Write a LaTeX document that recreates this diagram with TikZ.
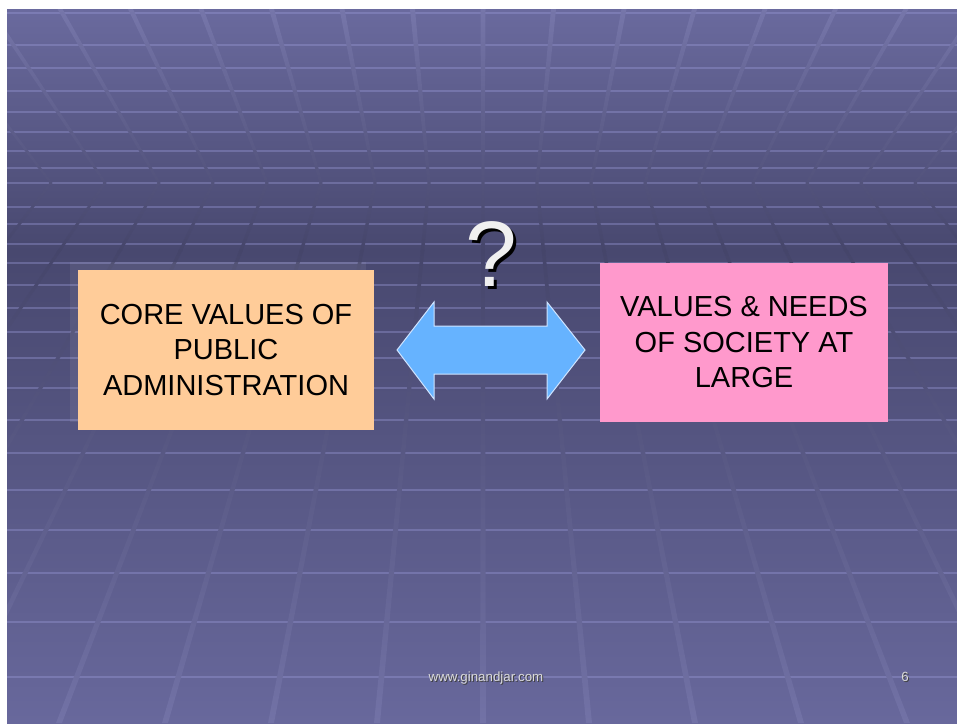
\documentclass[tikz,border=0pt]{standalone}
\usepackage{fontspec}
\setmainfont{Liberation Sans}
\definecolor{bgtop}{HTML}{6A6A9E}
\definecolor{bgmid}{HTML}{48486F}
\definecolor{bgbot}{HTML}{68689C}
\definecolor{bandtop}{HTML}{7676AA}
\definecolor{bandmid}{HTML}{45456A}
\definecolor{bandbot}{HTML}{7272A6}
\definecolor{hline}{HTML}{9A9AD8}
\definecolor{peach}{HTML}{FFCC99}
\definecolor{pinkbox}{HTML}{FF99CC}
\definecolor{arrowblue}{HTML}{66B3FF}
\definecolor{arrowedge}{HTML}{CFE4FF}
\definecolor{qwhite}{HTML}{F0F0F0}
\definecolor{footgray}{HTML}{DADADA}
\newcommand{\shadowtext}[4]{\makebox[0pt][l]{\kern#3\raisebox{-#3}{\color{#2}#1}}{\color{#4}#1}}
\begin{document}
\begin{tikzpicture}[x=1pt,y=-1pt,
  valbox/.style={draw=none, align=center, inner sep=0pt, text=black,
    font=\fontsize{29}{35.5}\selectfont},
  qstyle/.style={font=\fontsize{93}{93}\selectfont, anchor=base, inner sep=0pt},
  footstyle/.style={font=\fontsize{13.3}{14}\selectfont, anchor=base, inner sep=0pt},
  gridline/.style={hline, line width=2.5, opacity=0.38}]
\useasboundingbox (0,0) rectangle (957,723);
\fill[white] (0,0) rectangle (957,723);
% background gradient
\shade[top color=bgtop,bottom color=bgmid] (7,9) rectangle (957,251);
\shade[top color=bgmid,bottom color=bgbot] (7,250) rectangle (957,723);
% horizontal grid lines
\foreach \y in {13,45,68,91,112,132,151,168,183,207,224,244,263,285,308,332,358,388,420,453,490,530,573,622,677}
  \draw[gridline] (7,\y) -- (957,\y);
% perspective bands
\begin{scope}
\clip (7,9) rectangle (957,723);
\path[clip] foreach \k in {-10,...,10} {
  ({483+54*\k-1.6},183) -- ({483+70.5*\k-2.5},9) -- ({483+70.5*\k+2.5},9) --
  ({483+54*\k+1.6},183) -- ({483+106*\k+3},723) -- ({483+106*\k-3},723) -- cycle };
\shade[top color=bandtop,bottom color=bandmid] (7,9) rectangle (957,251);
\shade[top color=bandmid,bottom color=bandbot] (7,250) rectangle (957,723);
\end{scope}
% faint region behind left box
\fill[white, opacity=0.07] (70,262) rectangle (366,422);
% boxes
\node[valbox, fill=peach, minimum width=296, minimum height=160] (core) at (226,350)
  {CORE VALUES OF\\PUBLIC\\ADMINISTRATION};
\node[valbox, fill=pinkbox, minimum width=288, minimum height=159] (society) at (744,342.5)
  {VALUES \& NEEDS\\OF SOCIETY AT\\LARGE};
% double arrow
\draw[fill=arrowblue, draw=arrowedge, line width=1]
  (397,350) -- (434,302) -- (434,326) -- (547,326) -- (547,302) -- (585,350) --
  (547,399) -- (547,374) -- (434,374) -- (434,399) -- cycle;
% question mark with shadow
\node[qstyle] (qmark) at (491,286) {\shadowtext{?}{black}{3pt}{qwhite}};
% footer
\node[footstyle] (url) at (486,681.5) {\shadowtext{www.ginandjar.com}{black!75}{1pt}{footgray}};
\node[footstyle] (pagenum) at (905,681.5) {\shadowtext{6}{black!75}{1pt}{footgray}};
\end{tikzpicture}
\end{document}
